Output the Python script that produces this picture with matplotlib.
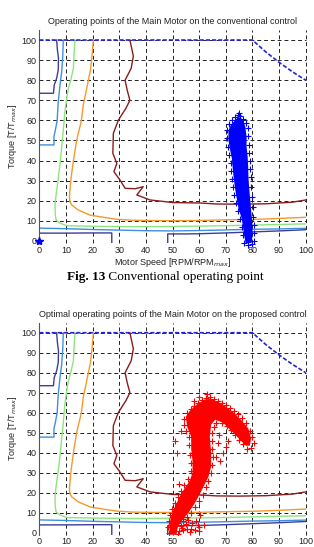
import numpy as np
import matplotlib.pyplot as plt

plt.rcParams['font.family'] = ['Liberation Sans', 'DejaVu Sans']

ticks = np.arange(0, 101, 10)

# curva de torque maximo
lim_x = [0, 80, 85, 90, 95, 100]
lim_y = [100, 100, 94.1, 88.9, 84.2, 80]

# curvas de eficiencia do motor
navy_up_x = [0, 5.3, 5.6, 6.5, 7.1, 7.2, 6.8, 6.5]
navy_up_y = [73.5, 73.5, 77.6, 80.9, 85, 90.9, 95, 100]
navy_lo1_x = [0, 10, 20, 27.2, 27.2]
navy_lo1_y = [3.9, 3.9, 4.0, 4.0, -1]
navy_lo2_x = [48.2, 48.2, 55, 60, 70, 80, 90, 100]
navy_lo2_y = [-1, 3.5, 3.5, 3.6, 4.0, 4.5, 5.0, 5.6]

lblue_up_x = [0, 5.5, 5.5, 6.0, 6.7, 7.1, 7.8, 8.4, 8.8, 9.0]
lblue_up_y = [47.8, 47.8, 52, 55, 60, 69.3, 78, 84.2, 92, 100]
lblue_lo_x = [0, 10, 20, 30, 40, 50, 60, 70, 80, 90, 100]
lblue_lo_y = [6.4, 6.1, 5.7, 5.4, 5.1, 5.0, 5.2, 5.5, 5.8, 6.0, 6.3]

green_x = [13.4, 13.0, 12.8, 11.8, 10.9, 10.2, 9.6, 9.0, 8.4, 7.8, 7.0, 6.2, 5.9, 6.0,
           6.3, 7.5, 10.3, 20, 35, 50, 60, 70, 80, 90, 100]
green_y = [100, 92, 86, 80, 76, 70, 64.3, 55, 47, 38.6, 30, 22, 18, 13,
           10.5, 9.0, 7.6, 7.3, 7.1, 7.2, 7.4, 7.6, 7.9, 8.2, 8.5]

orange_x = [20.3, 19.7, 19.2, 18.4, 17.5, 16.5, 15.8, 14.9, 14.0, 12.8, 11.8, 11.3,
            11.5, 12.2, 14.5, 19, 24, 29, 35, 40, 50, 60, 70, 80, 90, 100]
orange_y = [100, 91, 85, 80, 74, 67.7, 60, 55, 50, 40, 30, 22,
            19.5, 17.9, 15.5, 12.9, 11.8, 10.8, 10.3, 10.2, 10.1, 10.2, 10.5, 10.7, 11.2, 11.8]

maroon_x = [34, 35.3, 34.5, 32.2, 33, 34, 32.5, 29.7, 27.8, 27.6, 29.1, 28, 30.3,
            32.2, 36, 39, 36.6, 41.6, 50.3, 60.3, 66.6, 75, 85, 95, 100]
maroon_y = [100, 92, 86, 80, 75, 70, 66, 60.2, 53.6, 43.6, 38.6, 34.5, 30.3,
            26.2, 26, 27, 22.9, 20.4, 19.1, 18.9, 18.4, 18.3, 18.5, 19.3, 20.4]

curvas = [
    (navy_up_x, navy_up_y, '#3d3d99'),
    (navy_lo1_x, navy_lo1_y, '#3d3d99'),
    (navy_lo2_x, navy_lo2_y, '#3d3d99'),
    (lblue_up_x, lblue_up_y, '#3f8fe0'),
    (lblue_lo_x, lblue_lo_y, '#3f8fe0'),
    (green_x, green_y, '#8ee57f'),
    (orange_x, orange_y, '#f39a2b'),
    (maroon_x, maroon_y, '#8a1c1c'),
]

# pontos de operacao - controle convencional (nucleo denso + pontos soltos)
conv_core_x = [77.5, 77, 76.5, 75.8, 74.8, 74, 73.5, 73, 72.6, 72.3, 71.5, 71, 71, 72, 73.5, 74.5,
               75.5, 76.5, 77.3, 77.8, 77.8, 78.2, 78.4, 78.5, 78.8, 79.2, 79.6, 80, 80.1, 79.6]
conv_core_y = [-1.5, 2, 7, 12, 16, 22, 26, 31, 36, 41, 46, 50, 55, 58, 60, 61.5,
               61.5, 60, 57, 52, 47, 42, 37, 32, 26, 20, 14, 8, 3, -1.5]
conv_x = [77, 76.5, 76, 75.3, 74.5, 73.8, 73.2, 72.8, 72.3, 72, 71.8, 71.2, 70.7, 70.4, 70.5,
          71.2, 72.3, 73.5, 74.5, 75.5, 76.5, 77.5, 78.3, 78.5, 78.7, 78.8, 79, 79.2, 79.3,
          79.5, 79.9, 80.2, 80.4, 80.6, 80.7, 80.5, 79.8, 78.5, 74.8, 76, 77, 73.5, 75, 76.5, 78]
conv_y = [-1, 3, 7, 11, 15, 19, 23, 27, 31, 35, 39, 43, 47, 51, 55,
          58, 60, 61.5, 62.5, 62, 60.5, 58.5, 56, 52, 48, 44, 40, 36, 32,
          27, 22, 17, 12, 8, 4, 0, -1.5, -2, 63.5, 50, 30, 45, 35, 15, 5]
star_x = [0]
star_y = [0]

# pontos de operacao - controle proposto
opt_core_x = [49, 48.8, 49.5, 50.5, 52, 53.5, 55, 56.5, 57.5, 57.5, 57, 57, 55.5, 55, 56.5, 59,
              62, 64.5, 67, 70, 73, 76, 78.5, 79.5, 79, 77.5, 75, 72, 69, 66, 64.5, 64,
              64.5, 64.5, 63.5, 62, 60.5, 58.5, 56, 53.5, 52, 51.5]
opt_core_y = [-1, 4, 8, 12, 16, 20, 23, 26, 30, 36, 42, 48, 53, 58, 61, 64,
              66.5, 67, 65.5, 63, 60, 56, 52, 47, 43.5, 43.5, 47, 51, 55, 56.5, 54, 48,
              40, 33, 28, 24, 20, 15, 10, 6, 3, -1]
opt_x = [57, 58, 59.5, 61, 62.5, 64, 65.5, 67, 68.5, 70, 71.5, 73, 74.5, 76, 77.5, 79, 80,
         80.5, 79.5, 78, 76.5, 75, 73.5, 72, 70.5, 68.5, 66.5, 65.5, 65, 64.8, 65, 65.3, 65,
         64.5, 63.5, 62.5, 61.5, 60, 58.5, 57, 55.5, 54, 53, 52.5, 52,
         48.5, 48.3, 48.5, 49.2, 49.8, 50.8, 52, 53, 54.5, 56, 57, 56.8, 56.5, 56.3, 56.2,
         55, 54.2, 54.5, 55.5,
         51, 51.5, 52.5, 53, 67, 69, 68, 70, 66.5, 71, 67.5, 60, 63, 58,
         62, 60, 57, 55, 54, 59, 56, 53, 60.5, 50.5, 52, 54, 55.5, 57.5, 58.5, 59.5, 60, 56.5,
         53.5, 58, 60, 62, 59, 61, 63, 60, 62, 65, 68, 71, 74, 77]
opt_y = [62, 63.5, 65, 66.5, 67.5, 68, 67, 66, 65, 64, 62.5, 61, 59.5, 57.5, 55, 51, 48,
         45, 42.5, 42, 44.5, 46.5, 49, 51.5, 53.5, 55, 55, 53, 50, 46, 42, 38, 34,
         30, 26, 23, 19, 16, 13, 10, 8, 6, 3.5, 1, -0.5,
         0, 3, 6, 9, 12, 15, 18, 21, 24, 27, 31, 35, 39, 44, 48,
         51, 54, 57, 60,
         46, 40, 24.5, 51, 45, 40, 36, 43, 38, 46, 49, 68, 69.5, 66,
         4, 3, 2, 4.5, 1.5, 6, 6.5, 8, 9, 3, 5, 7, 2, 5, 1.5, 4, 1, 0.5,
         2.5, 50, 45, 38, 33, 28, 55, 58, 62, 60, 60, 58, 54, 50]

fig = plt.figure(figsize=(3.14, 5.47), dpi=100)


def desenha_mapa(ax, titulo):
    for cx, cy, cor in curvas:
        ax.plot(cx, cy, color=cor, lw=1.0)
    for t in ticks[1:]:
        ax.axvline(t, color='#222222', lw=0.7, ls=(0, (4, 3)), clip_on=False, zorder=1)
        ax.plot([0, 100], [t, t], color='#222222', lw=0.7, ls=(0, (4, 3)), clip_on=False, zorder=1)
    ax.plot(lim_x, lim_y, color='#2323d8', lw=1.2, dashes=(2.5, 1.2), zorder=4)
    ax.set_xlim(0, 100)
    ax.set_ylim(-1, 105)
    ax.set_xticks(ticks)
    ax.set_yticks(ticks)
    for s in ['top', 'right', 'bottom']:
        ax.spines[s].set_visible(False)
    ax.spines['left'].set_color('#555555')
    ax.spines['left'].set_linewidth(0.8)
    ax.tick_params(labelsize=6.5, length=0, pad=2, labelcolor='#222222')
    ax.set_title(titulo, fontsize=6.5, pad=4, color='#222222')
    ax.set_ylabel('Torque [T/T$_{max}$]', fontsize=6.5, labelpad=2, color='#222222')


ax1 = fig.add_axes([0.1252, 0.5558, 0.8484, 0.3894])
desenha_mapa(ax1, 'Operating points of the Main Motor on the conventional control')
ax1.fill(conv_core_x, conv_core_y, color='#0000ff', lw=0, zorder=5)
ax1.scatter(conv_x, conv_y, marker='+', s=14, color='#0000ff', lw=0.8, zorder=5, clip_on=False)
ax1.plot(star_x, star_y, marker='*', ls='none', color='#0000ff', ms=6, clip_on=False, zorder=6)
ax1.set_xlabel('Motor Speed [RPM/RPM$_{max}$]', fontsize=6.5, labelpad=1, color='#222222')

ax2 = fig.add_axes([0.1252, 0.0225, 0.8484, 0.3875])
desenha_mapa(ax2, 'Optimal operating points of the Main Motor on the proposed control')
ax2.fill(opt_core_x, opt_core_y, color='#ff0000', lw=0, zorder=5)
ax2.scatter(opt_x, opt_y, marker='+', s=16, color='#ff0000', lw=0.8, zorder=5)

# legenda da figura
fig.canvas.draw()
t1 = fig.text(0.213, 1 - 277 / 547, 'Fig. 13', fontsize=9.5, fontweight='bold',
              family='Liberation Serif', va='center', ha='left')
fig.canvas.draw()
bb = t1.get_window_extent()
x2 = fig.transFigure.inverted().transform((bb.x1, bb.y0))[0]
fig.text(x2, 1 - 277 / 547, ' Conventional operating point', fontsize=9.5,
         family='Liberation Serif', va='center', ha='left')

plt.savefig('out.png', dpi=100)
